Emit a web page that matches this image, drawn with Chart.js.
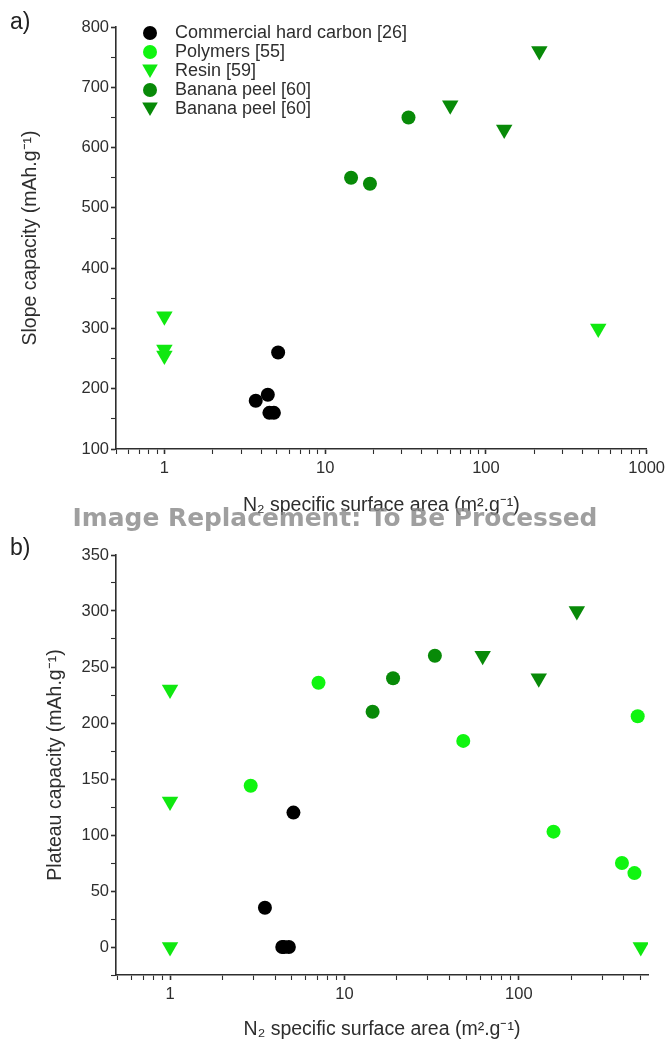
<!DOCTYPE html>
<html>
<head>
<meta charset="utf-8">
<script src="https://cdn.jsdelivr.net/npm/chart.js@4.4.1/dist/chart.umd.min.js"></script>
<style>
  html, body { margin: 0; padding: 0; background: #ffffff; }
  #wrap { position: relative; width: 670px; height: 1046px; overflow: hidden; font-family: 'Liberation Sans', Arial, sans-serif; }
  canvas { position: absolute; left: 0; }
  #c1 { top: 0; }
  #c2 { top: 530px; }
  .pl { position: absolute; left: 10px; font-size: 23px; color: #222; line-height: 1; }
  #wm { position: absolute; left: 0; width: 670px; text-align: center; top: 503px; font-family: 'DejaVu Sans', sans-serif; font-weight: bold; font-size: 24.9px; color: rgba(135,135,135,0.8); white-space: nowrap; line-height: 1.2; }
</style>
</head>
<body>
<div id="wrap">
  <canvas id="c1" width="670" height="530"></canvas>
  <canvas id="c2" width="670" height="516"></canvas>
  <div class="pl" style="top:10px">a)</div>
  <div class="pl" style="top:536px">b)</div>
  <div id="wm">Image Replacement: To Be Processed</div>
</div>
<script>
// ---- series names & styles ----
const seriesNames = ['Commercial hard carbon [26]', 'Polymers [55]', 'Resin [59]', 'Banana peel [60]', 'Banana peel [60]'];
const seriesColors = ['#000000', '#10f510', '#10e810', '#088a08', '#088a08'];
const seriesShapes = ['circle', 'circle', 'triangle', 'circle', 'triangle'];
const seriesRotation = [0, 0, 180, 0, 180];

// ---- a) slope capacity ----
const hardCarbonSlopeX = [3.7, 4.4, 4.5, 4.8, 5.1];
const hardCarbonSlopeY = [180, 190, 160, 160, 260];
const polymersSlopeX = [];
const polymersSlopeY = [];
const resinSlopeX = [1, 1, 1, 500];
const resinSlopeY = [320, 265, 255, 300];
const bananaCircleSlopeX = [14.5, 19, 33];
const bananaCircleSlopeY = [550, 540, 650];
const bananaTriSlopeX = [60, 130, 215];
const bananaTriSlopeY = [670, 630, 760];

// ---- b) plateau capacity ----
const hardCarbonPlateauX = [3.5, 4.4, 4.5, 4.8, 5.1];
const hardCarbonPlateauY = [35, 0, 0, 0, 120];
const polymersPlateauX = [2.9, 7.1, 48, 158, 390, 460, 480];
const polymersPlateauY = [144, 236, 184, 103, 75, 66, 206];
const resinPlateauX = [1, 1, 1, 500];
const resinPlateauY = [230, 130, 0, 0];
const bananaCirclePlateauX = [14.5, 19, 33];
const bananaCirclePlateauY = [210, 240, 260];
const bananaTriPlateauX = [62, 130, 215];
const bananaTriPlateauY = [260, 240, 300];

// ---- ticks ----
const xTicksTop = [0.5, 0.6, 0.7, 0.8, 0.9, 1, 2, 3, 4, 5, 6, 7, 8, 9, 10, 20, 30, 40, 50, 60, 70, 80, 90, 100, 200, 300, 400, 500, 600, 700, 800, 900, 1000];
const xLabelsTop = [1, 10, 100, 1000];
const xTicksBottom = [0.5, 0.6, 0.7, 0.8, 0.9, 1, 2, 3, 4, 5, 6, 7, 8, 9, 10, 20, 30, 40, 50, 60, 70, 80, 90, 100, 200, 300, 400, 500];
const xLabelsBottom = [1, 10, 100];
const yTicksTop = [100, 150, 200, 250, 300, 350, 400, 450, 500, 550, 600, 650, 700, 750, 800];
const yLabelsTop = [100, 200, 300, 400, 500, 600, 700, 800];
const yTicksBottom = [-25, 0, 25, 50, 75, 100, 125, 150, 175, 200, 225, 250, 275, 300, 325, 350];
const yLabelsBottom = [0, 50, 100, 150, 200, 250, 300, 350];

const FONT = "'Liberation Sans', Arial, sans-serif";
const AX = '#2e2e2e';

function pts(xs, ys) { return xs.map((x, i) => ({ x: x, y: ys[i] })); }

function makeDatasets(pairs) {
  return pairs.map((p, i) => ({
    label: seriesNames[i],
    data: pts(p[0], p[1]),
    backgroundColor: seriesColors[i],
    borderColor: seriesColors[i],
    borderWidth: 0,
    pointStyle: seriesShapes[i],
    rotation: seriesRotation[i],
    pointRadius: seriesShapes[i] === 'triangle' ? 9.5 : 7,
    pointHoverRadius: seriesShapes[i] === 'triangle' ? 9.5 : 7,
    showLine: false
  }));
}

const insideLegend = {
  id: 'insideLegend',
  afterDraw(chart, args, opts) {
    if (!opts.show) return;
    const ctx = chart.ctx;
    const x0 = chart.chartArea.left + 34;
    const y0 = chart.chartArea.top + 6;
    ctx.save();
    seriesNames.forEach((name, i) => {
      const y = y0 + i * 19;
      ctx.fillStyle = seriesColors[i];
      ctx.strokeStyle = seriesColors[i];
      Chart.helpers.drawPoint(ctx, {
        pointStyle: seriesShapes[i],
        rotation: seriesRotation[i],
        radius: seriesShapes[i] === 'triangle' ? 9 : 7,
        borderWidth: 0
      }, x0, y + (seriesShapes[i] === 'triangle' ? -2 : 0));
      ctx.fillStyle = AX;
      ctx.font = '18px ' + FONT;
      ctx.textBaseline = 'middle';
      ctx.textAlign = 'left';
      ctx.fillText(name, x0 + 25, y);
    });
    ctx.restore();
  }
};

function tickW(majors) {
  return (ctx) => (ctx.tick && majors.includes(ctx.tick.value)) ? 1.6 : 1.1;
}

function makeChart(canvasId, datasets, cfg) {
  return new Chart(document.getElementById(canvasId), {
    type: 'scatter',
    data: { datasets: datasets },
    plugins: [insideLegend],
    options: {
      responsive: false,
      animation: false,
      events: [],
      layout: { padding: cfg.padding },
      plugins: {
        legend: { display: false },
        tooltip: { enabled: false },
        insideLegend: { show: cfg.legend }
      },
      scales: {
        x: {
          type: 'logarithmic',
          position: 'bottom',
          min: cfg.xMin,
          max: cfg.xMax,
          afterBuildTicks: (s) => { s.ticks = cfg.xTicks.map(v => ({ value: v })); },
          afterFit: (s) => { s.height = cfg.xHeight; },
          ticks: {
            autoSkip: false, maxRotation: 0, minRotation: 0, padding: 5,
            color: AX, font: { size: 16.5, family: FONT },
            callback: (v) => cfg.xLabels.includes(v) ? String(v) : ''
          },
          grid: { drawOnChartArea: false, drawTicks: true, tickLength: 5, tickColor: AX, tickWidth: tickW(cfg.xLabels) },
          border: { display: true, color: AX, width: 1.6 },
          title: { display: true, text: 'N\u2082 specific surface area (m\u00B2.g\u207B\u00B9)', color: AX, font: { size: 19.5, family: FONT }, padding: { top: 0, bottom: cfg.xTitlePad } }
        },
        y: {
          type: 'linear',
          position: 'left',
          min: cfg.yMin,
          max: cfg.yMax,
          afterBuildTicks: (s) => { s.ticks = cfg.yTicks.map(v => ({ value: v })); },
          afterFit: (s) => { s.width = 116; },
          ticks: {
            autoSkip: false, padding: 2,
            color: AX, font: { size: 16.5, family: FONT },
            callback: (v) => cfg.yLabels.includes(v) ? String(v) : ''
          },
          grid: { drawOnChartArea: false, drawTicks: true, tickLength: 5, tickColor: AX, tickWidth: tickW(cfg.yLabels) },
          border: { display: true, color: AX, width: 1.6 },
          title: { display: true, text: cfg.yTitle, color: AX, font: { size: 19.5, family: FONT }, padding: { top: cfg.yTitlePad, bottom: 0 } }
        }
      }
    }
  });
}

makeChart('c1', makeDatasets([
  [hardCarbonSlopeX, hardCarbonSlopeY],
  [polymersSlopeX, polymersSlopeY],
  [resinSlopeX, resinSlopeY],
  [bananaCircleSlopeX, bananaCircleSlopeY],
  [bananaTriSlopeX, bananaTriSlopeY]
]), {
  padding: { top: 27, right: 20, left: 0, bottom: 0 },
  xMin: 0.5, xMax: 1000, xTicks: xTicksTop, xLabels: xLabelsTop, xHeight: 81, xTitlePad: 13,
  yMin: 100, yMax: 800, yTicks: yTicksTop, yLabels: yLabelsTop,
  yTitle: 'Slope capacity (mAh.g\u207B\u00B9)', yTitlePad: 19,
  legend: true
});

makeChart('c2', makeDatasets([
  [hardCarbonPlateauX, hardCarbonPlateauY],
  [polymersPlateauX, polymersPlateauY],
  [resinPlateauX, resinPlateauY],
  [bananaCirclePlateauX, bananaCirclePlateauY],
  [bananaTriPlateauX, bananaTriPlateauY]
]), {
  padding: { top: 25, right: 22, left: 0, bottom: 0 },
  xMin: 0.49, xMax: 550, xTicks: xTicksBottom, xLabels: xLabelsBottom, xHeight: 71, xTitlePad: 5,
  yMin: -25, yMax: 350, yTicks: yTicksBottom, yLabels: yLabelsBottom,
  yTitle: 'Plateau capacity (mAh.g\u207B\u00B9)', yTitlePad: 44,
  legend: false
});
</script>
</body>
</html>
